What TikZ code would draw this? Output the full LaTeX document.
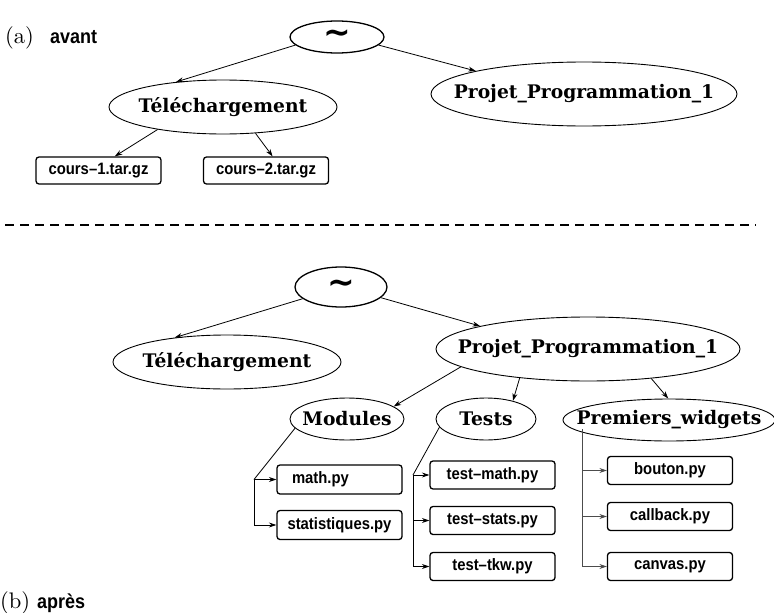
\documentclass[tikz,border=0pt]{standalone}
\usepackage{graphicx}
\usepackage{fontspec}
\newfontfamily\hsans[FakeStretch=0.9]{Liberation Sans}
\newfontfamily\dvs{DejaVu Sans}
\newfontfamily\dvserif{DejaVu Serif}
\usetikzlibrary{shapes.geometric,arrows.meta}
\newcommand{\ellab}[1]{\makebox[0pt]{\dvserif\bfseries\fontsize{18.7}{20}\selectfont #1}}
\newcommand{\tildelab}{\makebox[0pt]{\dvs\bfseries\fontsize{33}{33}\selectfont\char"007E}}
\begin{document}
\begin{tikzpicture}[x=1pt,y=-1pt,
  ell/.style={draw,ellipse,inner sep=0pt,line width=0.9pt},
  fbox/.style={draw,rounded corners=3pt,line width=1.3pt,minimum width=125pt,minimum height=28pt,inner sep=0pt,font=\hsans\bfseries\fontsize{16.5}{18}\selectfont},
  arr/.style={-{Stealth[length=7.5pt,width=5pt]},line width=0.8pt},
  conn/.style={line width=0.8pt},
  capl/.style={inner sep=0pt,anchor=base west},
  caps/.style={inner sep=0pt,anchor=base west,font=\hsans\bfseries\fontsize{20}{22}\selectfont}
]
\useasboundingbox (0,0) rectangle (774,613);

% ---------- (a) avant ----------
\node[capl] (la) at (5,43) {\scalebox{2.25}{(a)}};
\node[caps] (lav) at (50,43) {avant};

\node[ell,line width=1.3pt,minimum width=94pt,minimum height=32pt] (ta) at (337,37) {\tildelab};
\node[ell,minimum width=228pt,minimum height=54pt] (tela) at (223,107) {\ellab{Téléchargement}};
\node[ell,minimum width=306pt,minimum height=64pt] (ppa) at (584,94) {\ellab{Projet\_Programmation\_1}};
\node[fbox,minimum height=27pt] (c1) at (98.5,170.5) {cours–1.tar.gz};
\node[fbox,minimum height=27pt] (c2) at (266,170.5) {cours–2.tar.gz};

\draw[arr] (ta.191) -- (tela.152);
\draw[arr] (ta.349) -- (ppa.168);
\draw[arr] (tela.199) -- (c1.41);
\draw[arr] (tela.321) -- (c2.65);

% ---------- separator ----------
\coordinate (s1) at (5,225);
\coordinate (s2) at (756,225);
\draw[line width=1.4pt,dash pattern=on 8.5pt off 6.5pt] (s1) -- (s2);

% ---------- (b) apres ----------
\node[capl] (lb) at (0,608) {\scalebox{2.25}{(b)}};
\node[caps] (lap) at (37,608) {après};

\node[ell,line width=1.3pt,minimum width=92pt,minimum height=40pt] (tb) at (341,287) {\tildelab};
\node[ell,minimum width=228pt,minimum height=54pt] (telb) at (227,362) {\ellab{Téléchargement}};
\node[ell,minimum width=304pt,minimum height=64pt] (ppb) at (588,349) {\ellab{Projet\_Programmation\_1}};
\node[ell,minimum width=114pt,minimum height=42pt] (mod) at (347,419) {\ellab{Modules}};
\node[ell,minimum width=100pt,minimum height=42pt] (tst) at (486,419) {\ellab{Tests}};
\node[ell,minimum width=212pt,minimum height=42pt] (pw) at (669,420) {\ellab{Premiers\_widgets}};

\draw[arr] (tb.197) -- (telb.155);
\draw[arr] (tb.345) -- (ppb.168);
\draw[arr] (ppb.188) -- (mod.15);
\draw[arr] (ppb.203) -- (tst.34);
\draw[arr] (ppb.335) -- (pw.92);

% Modules children
\node[fbox,minimum height=29pt,text width=95pt,inner xsep=15pt,align=left] (math) at (339.5,479.5) {math.py};
\node[fbox,minimum height=29pt] (stat) at (339.5,525) {statistiques.py};
\coordinate (mj) at (254,479.5);
\draw[conn] (mod.190) -- (mj);
\draw[arr] (mj) -- (math.west);
\draw[arr] (mj) |- (stat.west);

% Tests children
\node[fbox] (tm) at (492.5,475) {test–math.py};
\node[fbox] (ts) at (492.5,520.5) {test–stats.py};
\node[fbox] (tt) at (492.5,566.5) {test–tkw.py};
\coordinate (tj) at (413,475);
\draw[conn] (tst.190) -- (tj);
\draw[arr] (tj) -- (tm.west);
\draw[arr] (tj) |- (ts.west);
\draw[arr] (tj) |- (tt.west);

% Premiers_widgets children
\node[fbox] (bt) at (670,470.5) {bouton.py};
\node[fbox] (cb) at (670,516.5) {callback.py};
\node[fbox] (cv) at (670,566.5) {canvas.py};
\coordinate (pj) at (582,429);
\draw[arr,draw=black!70] (pj) |- (bt.west);
\draw[arr,draw=black!70] (pj) |- (cb.west);
\draw[arr,draw=black!70] (pj) |- (cv.west);
\end{tikzpicture}
\end{document}
